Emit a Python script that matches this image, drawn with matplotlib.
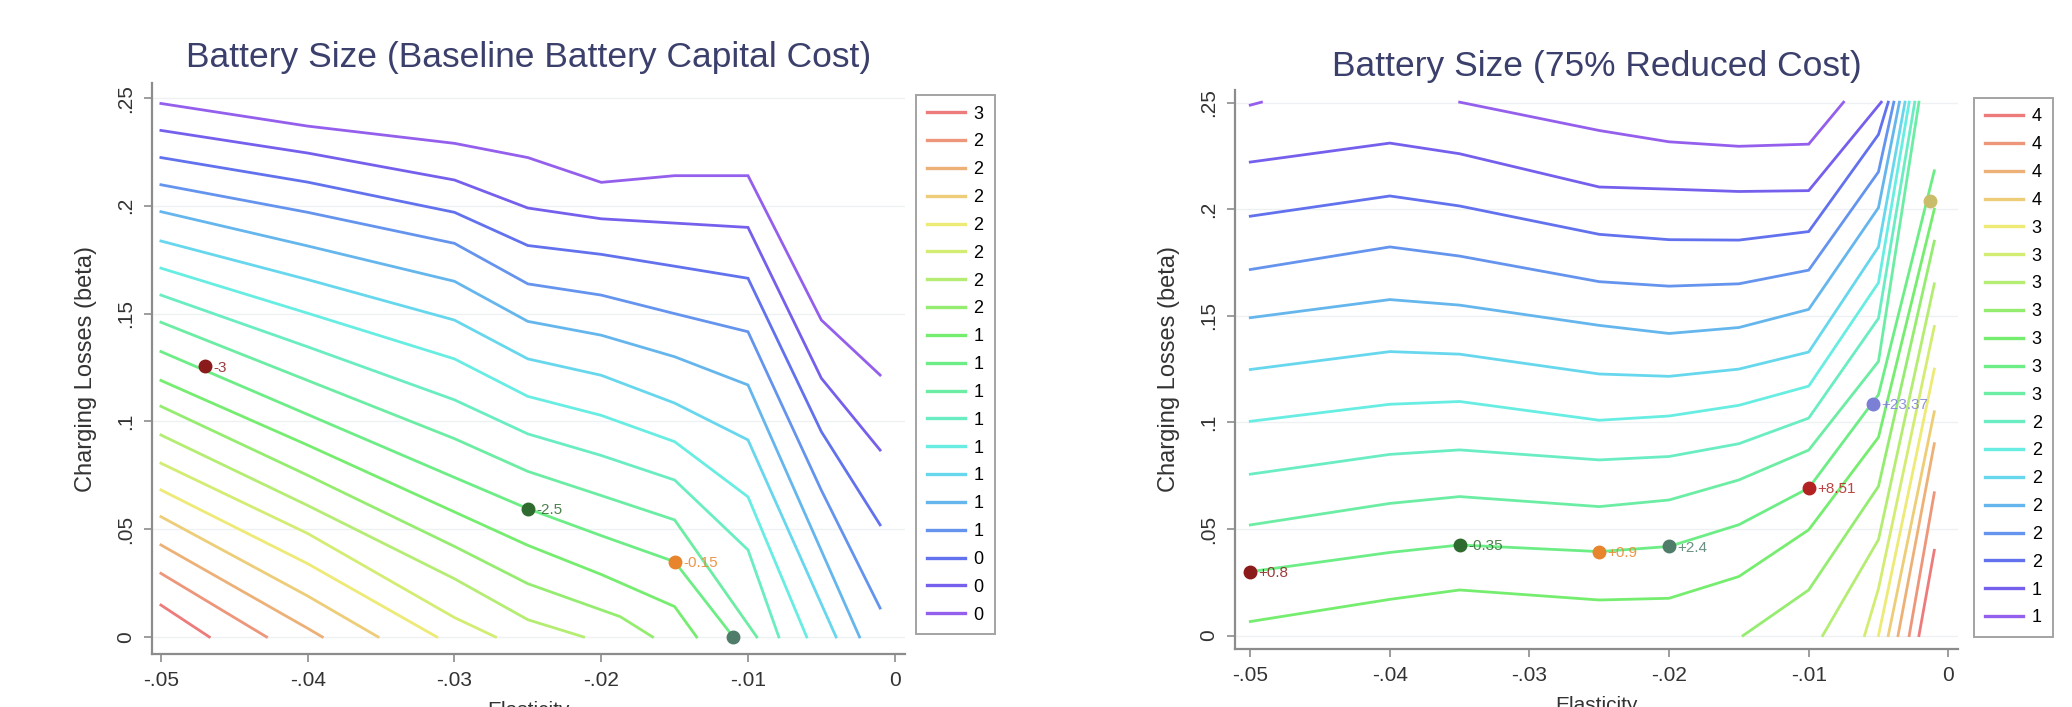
import matplotlib
matplotlib.use("Agg")
import matplotlib.pyplot as plt
from matplotlib.colors import hsv_to_rgb
from matplotlib.lines import Line2D

plt.rcParams['font.family'] = ['Liberation Sans', 'DejaVu Sans']

nan = float('nan')

# contour lines, index 0 = lowest level (purple) ... 18 = highest level (red)
# left panel: baseline battery capital cost
base_x = [
    [-0.05, -0.04, -0.03, -0.025, -0.02, -0.015, -0.01, -0.005, -0.001],
    [-0.05, -0.04, -0.03, -0.025, -0.02, -0.015, -0.01, -0.005, -0.001],
    [-0.05, -0.04, -0.03, -0.025, -0.02, -0.015, -0.01, -0.005, -0.001],
    [-0.05, -0.04, -0.03, -0.025, -0.02, -0.015, -0.01, -0.005, -0.001],
    [-0.05, -0.04, -0.03, -0.025, -0.02, -0.015, -0.01, -0.0024],
    [-0.05, -0.04, -0.03, -0.025, -0.02, -0.015, -0.01, -0.004],
    [-0.05, -0.04, -0.03, -0.025, -0.02, -0.015, -0.01, -0.006],
    [-0.05, -0.04, -0.03, -0.025, -0.02, -0.015, -0.01, -0.0079],
    [-0.05, -0.04, -0.03, -0.025, -0.02, -0.015, -0.0094],
    [-0.05, -0.04, -0.03, -0.025, -0.02, -0.015, -0.011],
    [-0.05, -0.04, -0.03, -0.025, -0.02, -0.015, -0.0135],
    [-0.05, -0.04, -0.03, -0.025, -0.0187, -0.0165],
    [-0.05, -0.04, -0.03, -0.025, -0.0212],
    [-0.05, -0.04, -0.03, -0.0272],
    [-0.05, -0.04, -0.0312],
    [-0.05, -0.04, -0.0352],
    [-0.05, -0.04, -0.039],
    [-0.05, -0.0428],
    [-0.05, -0.0467],
]
base_y = [
    [0.2475, 0.237, 0.229, 0.2224, 0.2109, 0.214, 0.214, 0.147, 0.1215],
    [0.235, 0.2245, 0.212, 0.199, 0.194, 0.192, 0.190, 0.120, 0.0867],
    [0.2224, 0.211, 0.197, 0.1816, 0.1775, 0.172, 0.1664, 0.0952, 0.052],
    [0.2098, 0.197, 0.1826, 0.1638, 0.1586, 0.150, 0.1416, 0.068, 0.0134],
    [0.1973, 0.1814, 0.165, 0.1464, 0.140, 0.130, 0.1169, 0],
    [0.1837, 0.1658, 0.147, 0.129, 0.1214, 0.1085, 0.0914, 0],
    [0.1711, 0.1502, 0.129, 0.1116, 0.1028, 0.0906, 0.065, 0],
    [0.1586, 0.1346, 0.110, 0.0942, 0.0842, 0.0728, 0.0404, 0],
    [0.146, 0.119, 0.092, 0.0768, 0.0656, 0.0543, 0],
    [0.1324, 0.1032, 0.074, 0.0595, 0.047, 0.0349, 0],
    [0.119, 0.089, 0.058, 0.0425, 0.029, 0.0141, 0],
    [0.107, 0.075, 0.042, 0.0247, 0.0094, 0],
    [0.0937, 0.061, 0.027, 0.008, 0],
    [0.0806, 0.048, 0.009, 0],
    [0.0682, 0.034, 0],
    [0.0558, 0.019, 0],
    [0.0427, 0.004, 0],
    [0.0295, 0],
    [0.0148, 0],
]
base_labels = ['0', '0', '0', '1', '1', '1', '1', '1', '1', '1', '1',
               '2', '2', '2', '2', '2', '2', '2', '3']
base_pts_x = [-0.047, -0.025, -0.015, -0.011]
base_pts_y = [0.1255, 0.0595, 0.0349, 0.0]
base_pts_txt = ['-3', '-2.5', '-0.15', '']
base_pts_col = ['#8b1a1a', '#2f6b2f', '#e8842c', '#4f7d6a']

# right panel: 75% reduced cost
red_x = [
    [-0.05, -0.0492, nan, -0.035, -0.025, -0.02, -0.015, -0.01, -0.0075],
    [-0.05, -0.04, -0.035, -0.025, -0.02, -0.015, -0.01, -0.0048],
    [-0.05, -0.04, -0.035, -0.025, -0.02, -0.015, -0.01, -0.005, -0.0043],
    [-0.05, -0.04, -0.035, -0.025, -0.02, -0.015, -0.01, -0.005, -0.0039],
    [-0.05, -0.04, -0.035, -0.025, -0.02, -0.015, -0.01, -0.005, -0.0035],
    [-0.05, -0.04, -0.035, -0.025, -0.02, -0.015, -0.01, -0.005, -0.0031],
    [-0.05, -0.04, -0.035, -0.025, -0.02, -0.015, -0.01, -0.005, -0.0028],
    [-0.05, -0.04, -0.035, -0.025, -0.02, -0.015, -0.01, -0.005, -0.0024],
    [-0.05, -0.04, -0.035, -0.025, -0.02, -0.015, -0.01, -0.005, -0.0021],
    [-0.05, -0.04, -0.035, -0.025, -0.02, -0.015, -0.01, -0.005, -0.001],
    [-0.05, -0.04, -0.035, -0.025, -0.02, -0.015, -0.01, -0.005, -0.001],
    [-0.0147, -0.01, -0.005, -0.001],
    [-0.009, -0.005, -0.001],
    [-0.006, -0.005, -0.001],
    [-0.005, -0.001],
    [-0.0043, -0.001],
    [-0.0036, -0.001],
    [-0.0028, -0.001],
    [-0.0021, -0.001],
]
red_y = [
    [0.2488, 0.2502, nan, 0.2502, 0.2369, 0.2316, 0.2295, 0.2305, 0.2502],
    [0.2221, 0.231, 0.226, 0.2104, 0.2094, 0.2083, 0.2087, 0.2502],
    [0.1967, 0.2062, 0.2015, 0.1882, 0.1857, 0.1855, 0.1895, 0.235, 0.2502],
    [0.1717, 0.1823, 0.178, 0.166, 0.1639, 0.165, 0.1714, 0.2175, 0.2502],
    [0.1491, 0.1576, 0.155, 0.1455, 0.1417, 0.1445, 0.153, 0.2007, 0.2502],
    [0.1248, 0.1332, 0.132, 0.1227, 0.1216, 0.125, 0.133, 0.1823, 0.2502],
    [0.1005, 0.1085, 0.1098, 0.101, 0.103, 0.108, 0.117, 0.1655, 0.2502],
    [0.0757, 0.085, 0.0871, 0.0824, 0.084, 0.09, 0.102, 0.1488, 0.2502],
    [0.0519, 0.062, 0.0652, 0.0605, 0.0636, 0.073, 0.087, 0.1286, 0.2502],
    [0.030, 0.039, 0.0425, 0.0394, 0.0418, 0.052, 0.0692, 0.113, 0.218],
    [0.0066, 0.017, 0.0214, 0.0167, 0.0175, 0.0277, 0.0496, 0.093, 0.200],
    [0, 0.0214, 0.07, 0.185],
    [0, 0.045, 0.165],
    [0, 0.022, 0.145],
    [0, 0.125],
    [0, 0.105],
    [0, 0.09],
    [0, 0.067],
    [0, 0.04],
]
red_labels = ['1', '1', '2', '2', '2', '2', '2', '2', '3', '3', '3',
              '3', '3', '3', '3', '4', '4', '4', '4']
red_pts_x = [-0.05, -0.035, -0.025, -0.02, -0.01, -0.0054, -0.0013]
red_pts_y = [0.030, 0.0425, 0.0394, 0.0418, 0.0692, 0.1086, 0.204]
red_pts_txt = ['+0.8', '-0.35', '+0.9', '+2.4', '+8.51', '+23.37', '']
red_pts_col = ['#8b1a1a', '#2f6b2f', '#e8842c', '#4f7d6a', '#b32222',
               '#7b7fd6', '#c9bd6a']

xticks = [-0.05, -0.04, -0.03, -0.02, -0.01, 0]
xticklabels = ['-.05', '-.04', '-.03', '-.02', '-.01', '0']
yticks = [0, 0.05, 0.1, 0.15, 0.2, 0.25]
yticklabels = ['0', '.05', '.1', '.15', '.2', '.25']

n_lev = 19
colors = [hsv_to_rgb((0.73 - 0.73 * i / (n_lev - 1), 0.6 - 0.12 * i / (n_lev - 1), 0.93))
          for i in range(n_lev)]

fig = plt.figure(figsize=(20.72, 7.07), dpi=100)
ax1 = fig.add_axes([0.0734, 0.075, 0.3634, 0.807])
ax2 = fig.add_axes([0.596, 0.082, 0.349, 0.791])


def draw_panel(ax, xs, ys, px, py, ptxt, pcol, title, xlim, ylim, labels, leg_x, leg_top, tpad):
    for i in range(n_lev):
        ax.plot(xs[i], ys[i], color=colors[i], lw=2.0, solid_joinstyle='miter')
    for x, y, t, c in zip(px, py, ptxt, pcol):
        ax.plot(x, y, 'o', color=c, ms=9, zorder=5)
        if t:
            ax.annotate(t, (x, y), xytext=(6, -1), textcoords='offset points',
                        color=c, fontsize=11, va='center', alpha=0.85)
    ax.set_xlim(xlim)
    ax.set_ylim(ylim)
    ax.set_xticks(xticks)
    ax.set_xticklabels(xticklabels, fontsize=15)
    ax.set_yticks(yticks)
    ax.set_yticklabels(yticklabels, fontsize=15, rotation=90, va='center')
    ax.grid(axis='y', color='#eef0f4', lw=1.0)
    ax.set_axisbelow(True)
    for s in ['top', 'right']:
        ax.spines[s].set_visible(False)
    for s in ['left', 'bottom']:
        ax.spines[s].set_color('#8c8c8c')
        ax.spines[s].set_linewidth(1.6)
    ax.tick_params(direction='out', length=6, width=1.2, color='#8c8c8c',
                   labelcolor='#333333', pad=6)
    ax.set_title(title, fontsize=25.5, color='#3b3f6b', pad=tpad)
    ax.set_ylabel('Charging Losses (beta)', fontsize=17, color='#333333', labelpad=14)
    ax.set_xlabel('Elasticity', fontsize=15, color='#333333', labelpad=8)
    handles = [Line2D([], [], color=colors[i], lw=2.4) for i in range(n_lev - 1, -1, -1)]
    labs = [labels[i] for i in range(n_lev - 1, -1, -1)]
    leg = fig.legend(handles, labs, loc='upper left', bbox_to_anchor=(leg_x, leg_top),
                     bbox_transform=fig.transFigure, fontsize=13, frameon=True,
                     fancybox=False, edgecolor='#8c8c8c', handlelength=2.1,
                     handletextpad=0.5, labelspacing=0.6, borderpad=0.6,
                     borderaxespad=0)
    leg.get_frame().set_linewidth(1.4)


draw_panel(ax1, base_x, base_y, base_pts_x, base_pts_y, base_pts_txt, base_pts_col,
           'Battery Size (Baseline Battery Capital Cost)', (-0.0506, 0.0007),
           (-0.0079, 0.2568), base_labels, 0.442, 0.866, 12)
draw_panel(ax2, red_x, red_y, red_pts_x, red_pts_y, red_pts_txt, red_pts_col,
           'Battery Size (75% Reduced Cost)', (-0.0511, 0.0007),
           (-0.0063, 0.256), red_labels, 0.9527, 0.862, 10)

fig.savefig('out.png', dpi=100)
